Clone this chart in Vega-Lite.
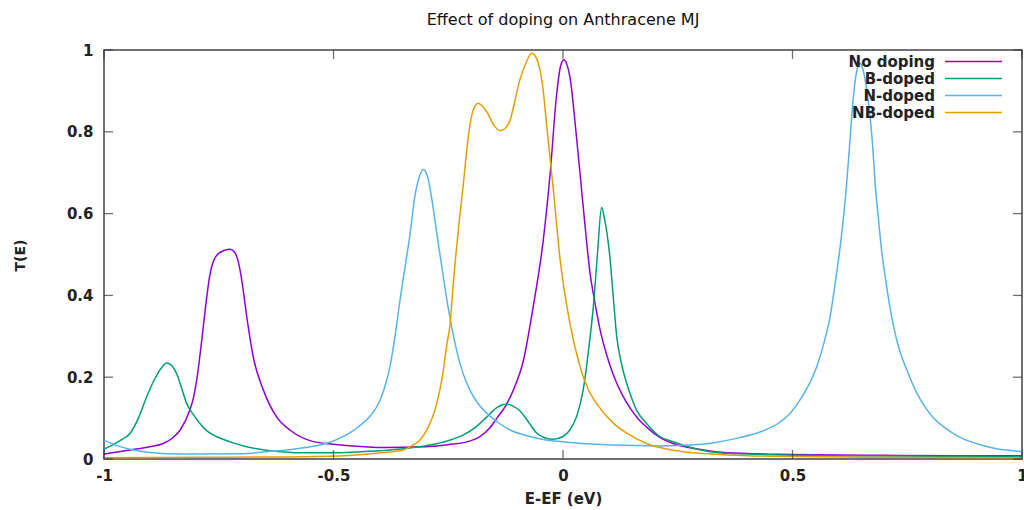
{
  "$schema": "https://vega.github.io/schema/vega-lite/v6.json",
  "width": 918,
  "height": 409,
  "autosize": {"type": "none"},
  "padding": {"left": 104, "top": 50, "right": 2, "bottom": 51},
  "background": "white",
  "config": {
    "font": "DejaVu Sans",
    "view": {"stroke": "#444", "strokeWidth": 1.5}
  },
  "title": {"text": "Effect of doping on Anthracene MJ", "fontSize": 16, "fontWeight": "normal", "color": "#111", "offset": 15, "anchor": "middle"},
  "datasets": {
    "xticks": [{"v": -1}, {"v": -0.5}, {"v": 0}, {"v": 0.5}, {"v": 1}],
    "yticks": [{"v": 0}, {"v": 0.2}, {"v": 0.4}, {"v": 0.6}, {"v": 0.8}, {"v": 1}],
    "curves": [
      {"series": "No doping", "E": -1.0, "T": 0.012},
      {"series": "No doping", "E": -0.943, "T": 0.022},
      {"series": "No doping", "E": -0.9, "T": 0.03},
      {"series": "No doping", "E": -0.871, "T": 0.038},
      {"series": "No doping", "E": -0.85, "T": 0.052},
      {"series": "No doping", "E": -0.834, "T": 0.071},
      {"series": "No doping", "E": -0.813, "T": 0.12},
      {"series": "No doping", "E": -0.805, "T": 0.15},
      {"series": "No doping", "E": -0.798, "T": 0.193},
      {"series": "No doping", "E": -0.787, "T": 0.291},
      {"series": "No doping", "E": -0.776, "T": 0.397},
      {"series": "No doping", "E": -0.77, "T": 0.445},
      {"series": "No doping", "E": -0.765, "T": 0.472},
      {"series": "No doping", "E": -0.758, "T": 0.492},
      {"series": "No doping", "E": -0.75, "T": 0.503},
      {"series": "No doping", "E": -0.738, "T": 0.51},
      {"series": "No doping", "E": -0.725, "T": 0.513},
      {"series": "No doping", "E": -0.715, "T": 0.505},
      {"series": "No doping", "E": -0.707, "T": 0.48},
      {"series": "No doping", "E": -0.7, "T": 0.438},
      {"series": "No doping", "E": -0.689, "T": 0.348},
      {"series": "No doping", "E": -0.675, "T": 0.25},
      {"series": "No doping", "E": -0.653, "T": 0.169},
      {"series": "No doping", "E": -0.624, "T": 0.103},
      {"series": "No doping", "E": -0.595, "T": 0.071},
      {"series": "No doping", "E": -0.551, "T": 0.045},
      {"series": "No doping", "E": -0.5, "T": 0.036},
      {"series": "No doping", "E": -0.45, "T": 0.031},
      {"series": "No doping", "E": -0.391, "T": 0.028},
      {"series": "No doping", "E": -0.3, "T": 0.03},
      {"series": "No doping", "E": -0.25, "T": 0.035},
      {"series": "No doping", "E": -0.2, "T": 0.045},
      {"series": "No doping", "E": -0.181, "T": 0.055},
      {"series": "No doping", "E": -0.16, "T": 0.075},
      {"series": "No doping", "E": -0.144, "T": 0.1},
      {"series": "No doping", "E": -0.125, "T": 0.13},
      {"series": "No doping", "E": -0.108, "T": 0.169},
      {"series": "No doping", "E": -0.086, "T": 0.242},
      {"series": "No doping", "E": -0.065, "T": 0.372},
      {"series": "No doping", "E": -0.043, "T": 0.535},
      {"series": "No doping", "E": -0.028, "T": 0.698},
      {"series": "No doping", "E": -0.014, "T": 0.89},
      {"series": "No doping", "E": -0.005, "T": 0.962},
      {"series": "No doping", "E": 0.002, "T": 0.976},
      {"series": "No doping", "E": 0.008, "T": 0.966},
      {"series": "No doping", "E": 0.015, "T": 0.935},
      {"series": "No doping", "E": 0.03, "T": 0.78},
      {"series": "No doping", "E": 0.044, "T": 0.617},
      {"series": "No doping", "E": 0.059, "T": 0.454},
      {"series": "No doping", "E": 0.07, "T": 0.38},
      {"series": "No doping", "E": 0.081, "T": 0.315},
      {"series": "No doping", "E": 0.095, "T": 0.255},
      {"series": "No doping", "E": 0.11, "T": 0.205},
      {"series": "No doping", "E": 0.13, "T": 0.155},
      {"series": "No doping", "E": 0.146, "T": 0.125},
      {"series": "No doping", "E": 0.164, "T": 0.098},
      {"series": "No doping", "E": 0.182, "T": 0.078},
      {"series": "No doping", "E": 0.211, "T": 0.053},
      {"series": "No doping", "E": 0.24, "T": 0.038},
      {"series": "No doping", "E": 0.3, "T": 0.023},
      {"series": "No doping", "E": 0.357, "T": 0.015},
      {"series": "No doping", "E": 0.5, "T": 0.011},
      {"series": "No doping", "E": 0.7, "T": 0.009},
      {"series": "No doping", "E": 0.85, "T": 0.008},
      {"series": "No doping", "E": 1.0, "T": 0.008},

      {"series": "B-doped", "E": -1.0, "T": 0.024},
      {"series": "B-doped", "E": -0.965, "T": 0.045},
      {"series": "B-doped", "E": -0.943, "T": 0.063},
      {"series": "B-doped", "E": -0.925, "T": 0.1},
      {"series": "B-doped", "E": -0.907, "T": 0.152},
      {"series": "B-doped", "E": -0.892, "T": 0.19},
      {"series": "B-doped", "E": -0.878, "T": 0.218},
      {"series": "B-doped", "E": -0.863, "T": 0.235},
      {"series": "B-doped", "E": -0.852, "T": 0.228},
      {"series": "B-doped", "E": -0.842, "T": 0.209},
      {"series": "B-doped", "E": -0.83, "T": 0.17},
      {"series": "B-doped", "E": -0.82, "T": 0.136},
      {"series": "B-doped", "E": -0.805, "T": 0.108},
      {"series": "B-doped", "E": -0.791, "T": 0.087},
      {"series": "B-doped", "E": -0.775, "T": 0.068},
      {"series": "B-doped", "E": -0.755, "T": 0.055},
      {"series": "B-doped", "E": -0.72, "T": 0.04},
      {"series": "B-doped", "E": -0.689, "T": 0.03},
      {"series": "B-doped", "E": -0.617, "T": 0.018},
      {"series": "B-doped", "E": -0.55, "T": 0.015},
      {"series": "B-doped", "E": -0.5, "T": 0.015},
      {"series": "B-doped", "E": -0.45, "T": 0.017},
      {"series": "B-doped", "E": -0.399, "T": 0.02},
      {"series": "B-doped", "E": -0.34, "T": 0.026},
      {"series": "B-doped", "E": -0.29, "T": 0.034},
      {"series": "B-doped", "E": -0.25, "T": 0.045},
      {"series": "B-doped", "E": -0.217, "T": 0.059},
      {"series": "B-doped", "E": -0.19, "T": 0.078},
      {"series": "B-doped", "E": -0.166, "T": 0.103},
      {"series": "B-doped", "E": -0.145, "T": 0.125},
      {"series": "B-doped", "E": -0.13, "T": 0.133},
      {"series": "B-doped", "E": -0.123, "T": 0.134},
      {"series": "B-doped", "E": -0.11, "T": 0.13},
      {"series": "B-doped", "E": -0.094, "T": 0.118},
      {"series": "B-doped", "E": -0.075, "T": 0.09},
      {"series": "B-doped", "E": -0.057, "T": 0.063},
      {"series": "B-doped", "E": -0.04, "T": 0.052},
      {"series": "B-doped", "E": -0.021, "T": 0.048},
      {"series": "B-doped", "E": 0.0, "T": 0.055},
      {"series": "B-doped", "E": 0.015, "T": 0.071},
      {"series": "B-doped", "E": 0.03, "T": 0.105},
      {"series": "B-doped", "E": 0.044, "T": 0.169},
      {"series": "B-doped", "E": 0.055, "T": 0.26},
      {"series": "B-doped", "E": 0.066, "T": 0.372},
      {"series": "B-doped", "E": 0.075, "T": 0.5},
      {"series": "B-doped", "E": 0.084, "T": 0.615},
      {"series": "B-doped", "E": 0.09, "T": 0.59},
      {"series": "B-doped", "E": 0.102, "T": 0.495},
      {"series": "B-doped", "E": 0.11, "T": 0.39},
      {"series": "B-doped", "E": 0.117, "T": 0.3},
      {"series": "B-doped", "E": 0.126, "T": 0.24},
      {"series": "B-doped", "E": 0.136, "T": 0.195},
      {"series": "B-doped", "E": 0.146, "T": 0.16},
      {"series": "B-doped", "E": 0.16, "T": 0.12},
      {"series": "B-doped", "E": 0.182, "T": 0.087},
      {"series": "B-doped", "E": 0.211, "T": 0.055},
      {"series": "B-doped", "E": 0.24, "T": 0.042},
      {"series": "B-doped", "E": 0.32, "T": 0.018},
      {"series": "B-doped", "E": 0.4, "T": 0.012},
      {"series": "B-doped", "E": 0.6, "T": 0.008},
      {"series": "B-doped", "E": 0.8, "T": 0.007},
      {"series": "B-doped", "E": 1.0, "T": 0.006},

      {"series": "N-doped", "E": -1.0, "T": 0.046},
      {"series": "N-doped", "E": -0.97, "T": 0.032},
      {"series": "N-doped", "E": -0.936, "T": 0.022},
      {"series": "N-doped", "E": -0.9, "T": 0.016},
      {"series": "N-doped", "E": -0.863, "T": 0.013},
      {"series": "N-doped", "E": -0.8, "T": 0.012},
      {"series": "N-doped", "E": -0.7, "T": 0.013},
      {"series": "N-doped", "E": -0.646, "T": 0.018},
      {"series": "N-doped", "E": -0.6, "T": 0.022},
      {"series": "N-doped", "E": -0.573, "T": 0.026},
      {"series": "N-doped", "E": -0.53, "T": 0.034},
      {"series": "N-doped", "E": -0.5, "T": 0.044},
      {"series": "N-doped", "E": -0.47, "T": 0.06},
      {"series": "N-doped", "E": -0.442, "T": 0.082},
      {"series": "N-doped", "E": -0.42, "T": 0.105},
      {"series": "N-doped", "E": -0.4, "T": 0.14},
      {"series": "N-doped", "E": -0.39, "T": 0.17},
      {"series": "N-doped", "E": -0.377, "T": 0.226},
      {"series": "N-doped", "E": -0.366, "T": 0.3},
      {"series": "N-doped", "E": -0.355, "T": 0.389},
      {"series": "N-doped", "E": -0.344, "T": 0.47},
      {"series": "N-doped", "E": -0.333, "T": 0.552},
      {"series": "N-doped", "E": -0.323, "T": 0.64},
      {"series": "N-doped", "E": -0.313, "T": 0.69},
      {"series": "N-doped", "E": -0.304, "T": 0.708},
      {"series": "N-doped", "E": -0.295, "T": 0.69},
      {"series": "N-doped", "E": -0.285, "T": 0.63},
      {"series": "N-doped", "E": -0.275, "T": 0.552},
      {"series": "N-doped", "E": -0.264, "T": 0.47},
      {"series": "N-doped", "E": -0.253, "T": 0.389},
      {"series": "N-doped", "E": -0.242, "T": 0.32},
      {"series": "N-doped", "E": -0.232, "T": 0.267},
      {"series": "N-doped", "E": -0.218, "T": 0.21},
      {"series": "N-doped", "E": -0.203, "T": 0.169},
      {"series": "N-doped", "E": -0.185, "T": 0.135},
      {"series": "N-doped", "E": -0.166, "T": 0.112},
      {"series": "N-doped", "E": -0.14, "T": 0.088},
      {"series": "N-doped", "E": -0.115, "T": 0.071},
      {"series": "N-doped", "E": -0.072, "T": 0.055},
      {"series": "N-doped", "E": -0.04, "T": 0.047},
      {"series": "N-doped", "E": 0.0, "T": 0.042},
      {"series": "N-doped", "E": 0.05, "T": 0.037},
      {"series": "N-doped", "E": 0.11, "T": 0.034},
      {"series": "N-doped", "E": 0.211, "T": 0.032},
      {"series": "N-doped", "E": 0.28, "T": 0.034},
      {"series": "N-doped", "E": 0.33, "T": 0.04},
      {"series": "N-doped", "E": 0.38, "T": 0.051},
      {"series": "N-doped", "E": 0.429, "T": 0.066},
      {"series": "N-doped", "E": 0.47, "T": 0.088},
      {"series": "N-doped", "E": 0.495, "T": 0.112},
      {"series": "N-doped", "E": 0.515, "T": 0.142},
      {"series": "N-doped", "E": 0.535, "T": 0.18},
      {"series": "N-doped", "E": 0.553, "T": 0.226},
      {"series": "N-doped", "E": 0.57, "T": 0.29},
      {"series": "N-doped", "E": 0.582, "T": 0.348},
      {"series": "N-doped", "E": 0.593, "T": 0.43},
      {"series": "N-doped", "E": 0.603, "T": 0.511},
      {"series": "N-doped", "E": 0.611, "T": 0.59},
      {"series": "N-doped", "E": 0.618, "T": 0.674},
      {"series": "N-doped", "E": 0.624, "T": 0.76},
      {"series": "N-doped", "E": 0.629, "T": 0.837},
      {"series": "N-doped", "E": 0.636, "T": 0.92},
      {"series": "N-doped", "E": 0.642, "T": 0.958},
      {"series": "N-doped", "E": 0.647, "T": 0.967},
      {"series": "N-doped", "E": 0.653, "T": 0.955},
      {"series": "N-doped", "E": 0.66, "T": 0.915},
      {"series": "N-doped", "E": 0.669, "T": 0.837},
      {"series": "N-doped", "E": 0.675, "T": 0.76},
      {"series": "N-doped", "E": 0.68, "T": 0.674},
      {"series": "N-doped", "E": 0.687, "T": 0.59},
      {"series": "N-doped", "E": 0.694, "T": 0.511},
      {"series": "N-doped", "E": 0.704, "T": 0.43},
      {"series": "N-doped", "E": 0.716, "T": 0.348},
      {"series": "N-doped", "E": 0.732, "T": 0.27},
      {"series": "N-doped", "E": 0.749, "T": 0.218},
      {"series": "N-doped", "E": 0.77, "T": 0.163},
      {"series": "N-doped", "E": 0.792, "T": 0.122},
      {"series": "N-doped", "E": 0.81, "T": 0.097},
      {"series": "N-doped", "E": 0.83, "T": 0.078},
      {"series": "N-doped", "E": 0.865, "T": 0.053},
      {"series": "N-doped", "E": 0.9, "T": 0.038},
      {"series": "N-doped", "E": 0.937, "T": 0.027},
      {"series": "N-doped", "E": 1.0, "T": 0.018},

      {"series": "NB-doped", "E": -1.0, "T": 0.003},
      {"series": "NB-doped", "E": -0.8, "T": 0.004},
      {"series": "NB-doped", "E": -0.6, "T": 0.005},
      {"series": "NB-doped", "E": -0.537, "T": 0.006},
      {"series": "NB-doped", "E": -0.45, "T": 0.01},
      {"series": "NB-doped", "E": -0.39, "T": 0.016},
      {"series": "NB-doped", "E": -0.348, "T": 0.022},
      {"series": "NB-doped", "E": -0.33, "T": 0.032},
      {"series": "NB-doped", "E": -0.312, "T": 0.046},
      {"series": "NB-doped", "E": -0.295, "T": 0.075},
      {"series": "NB-doped", "E": -0.285, "T": 0.1},
      {"series": "NB-doped", "E": -0.275, "T": 0.136},
      {"series": "NB-doped", "E": -0.263, "T": 0.2},
      {"series": "NB-doped", "E": -0.253, "T": 0.28},
      {"series": "NB-doped", "E": -0.246, "T": 0.33},
      {"series": "NB-doped", "E": -0.239, "T": 0.43},
      {"series": "NB-doped", "E": -0.228, "T": 0.56},
      {"series": "NB-doped", "E": -0.217, "T": 0.674},
      {"series": "NB-doped", "E": -0.205, "T": 0.8},
      {"series": "NB-doped", "E": -0.195, "T": 0.855},
      {"series": "NB-doped", "E": -0.185, "T": 0.87},
      {"series": "NB-doped", "E": -0.175, "T": 0.862},
      {"series": "NB-doped", "E": -0.166, "T": 0.849},
      {"series": "NB-doped", "E": -0.15, "T": 0.815},
      {"series": "NB-doped", "E": -0.137, "T": 0.803},
      {"series": "NB-doped", "E": -0.125, "T": 0.81},
      {"series": "NB-doped", "E": -0.115, "T": 0.829},
      {"series": "NB-doped", "E": -0.105, "T": 0.875},
      {"series": "NB-doped", "E": -0.094, "T": 0.927},
      {"series": "NB-doped", "E": -0.08, "T": 0.97},
      {"series": "NB-doped", "E": -0.068, "T": 0.992},
      {"series": "NB-doped", "E": -0.058, "T": 0.98},
      {"series": "NB-doped", "E": -0.05, "T": 0.951},
      {"series": "NB-doped", "E": -0.043, "T": 0.9},
      {"series": "NB-doped", "E": -0.036, "T": 0.821},
      {"series": "NB-doped", "E": -0.021, "T": 0.658},
      {"series": "NB-doped", "E": -0.007, "T": 0.495},
      {"series": "NB-doped", "E": 0.015, "T": 0.332},
      {"series": "NB-doped", "E": 0.037, "T": 0.226},
      {"series": "NB-doped", "E": 0.055, "T": 0.17},
      {"series": "NB-doped", "E": 0.073, "T": 0.136},
      {"series": "NB-doped", "E": 0.11, "T": 0.087},
      {"series": "NB-doped", "E": 0.139, "T": 0.063},
      {"series": "NB-doped", "E": 0.182, "T": 0.038},
      {"series": "NB-doped", "E": 0.248, "T": 0.02},
      {"series": "NB-doped", "E": 0.357, "T": 0.01},
      {"series": "NB-doped", "E": 0.5, "T": 0.006},
      {"series": "NB-doped", "E": 0.7, "T": 0.004},
      {"series": "NB-doped", "E": 1.0, "T": 0.003}
    ]
  },
  "layer": [
    {
      "data": {"name": "curves"},
      "mark": {"type": "line", "strokeWidth": 1.5, "clip": true, "interpolate": "monotone"},
      "encoding": {
        "x": {
          "field": "E", "type": "quantitative",
          "scale": {"domain": [-1, 1], "nice": false, "zero": false},
          "axis": {"orient": "bottom", "values": [-1, -0.5, 0, 0.5, 1], "domain": false, "ticks": false, "grid": false,
            "labelPadding": 9, "labelExpr": "'' + datum.value",
            "labelFontSize": 15, "labelFontWeight": "bold", "labelColor": "#222", "labelFlush": false,
            "title": "E-EF (eV)", "titleFontSize": 15, "titleFontWeight": "bold", "titleColor": "#222",
            "titleX": 459, "titleY": 39, "titleBaseline": "middle", "titleAlign": "center"}
        },
        "y": {
          "field": "T", "type": "quantitative",
          "scale": {"domain": [0, 1], "nice": false},
          "axis": {"orient": "left", "values": [0, 0.2, 0.4, 0.6, 0.8, 1], "domain": false, "ticks": false, "grid": false,
            "labelPadding": 11, "labelExpr": "'' + datum.value",
            "labelFontSize": 15, "labelFontWeight": "bold", "labelColor": "#222", "labelFlush": false,
            "title": "T(E)", "titleFontSize": 14, "titleFontWeight": "bold", "titleColor": "#222",
            "titleX": -84, "titleY": 205, "titleAngle": -90, "titleBaseline": "middle", "titleAlign": "center"}
        },
        "color": {
          "field": "series", "type": "nominal",
          "scale": {"domain": ["No doping", "B-doped", "N-doped", "NB-doped"], "range": ["#9400d3", "#009e73", "#56b4e9", "#e69f00"]},
          "legend": {"title": null, "orient": "none", "legendX": 862, "legendY": 4, "padding": 0,
            "symbolType": "M-5,0H5", "symbolSize": 130, "symbolStrokeWidth": 1.5, "symbolFillColor": "transparent",
            "labelAlign": "right", "labelOffset": -46, "labelFontSize": 15, "labelFontWeight": "bold", "labelColor": "#222",
            "rowPadding": 1}
        }
      }
    },
    {
      "data": {"name": "xticks"},
      "mark": {"type": "tick", "orient": "vertical", "size": 9, "thickness": 1.3, "color": "#333", "yOffset": -4.5},
      "encoding": {
        "x": {"field": "v", "type": "quantitative", "axis": null},
        "y": {"datum": 0, "type": "quantitative", "axis": null}
      }
    },
    {
      "data": {"name": "xticks"},
      "mark": {"type": "tick", "orient": "vertical", "size": 9, "thickness": 1.3, "color": "#333", "yOffset": 4.5},
      "encoding": {
        "x": {"field": "v", "type": "quantitative", "axis": null},
        "y": {"datum": 1, "type": "quantitative", "axis": null}
      }
    },
    {
      "data": {"name": "yticks"},
      "mark": {"type": "tick", "orient": "horizontal", "size": 9, "thickness": 1.3, "color": "#333", "xOffset": 4.5},
      "encoding": {
        "y": {"field": "v", "type": "quantitative", "axis": null},
        "x": {"datum": -1, "type": "quantitative", "axis": null}
      }
    },
    {
      "data": {"name": "yticks"},
      "mark": {"type": "tick", "orient": "horizontal", "size": 9, "thickness": 1.3, "color": "#333", "xOffset": -4.5},
      "encoding": {
        "y": {"field": "v", "type": "quantitative", "axis": null},
        "x": {"datum": 1, "type": "quantitative", "axis": null}
      }
    }
  ],
  "resolve": {"axis": {"x": "independent", "y": "independent"}}
}
